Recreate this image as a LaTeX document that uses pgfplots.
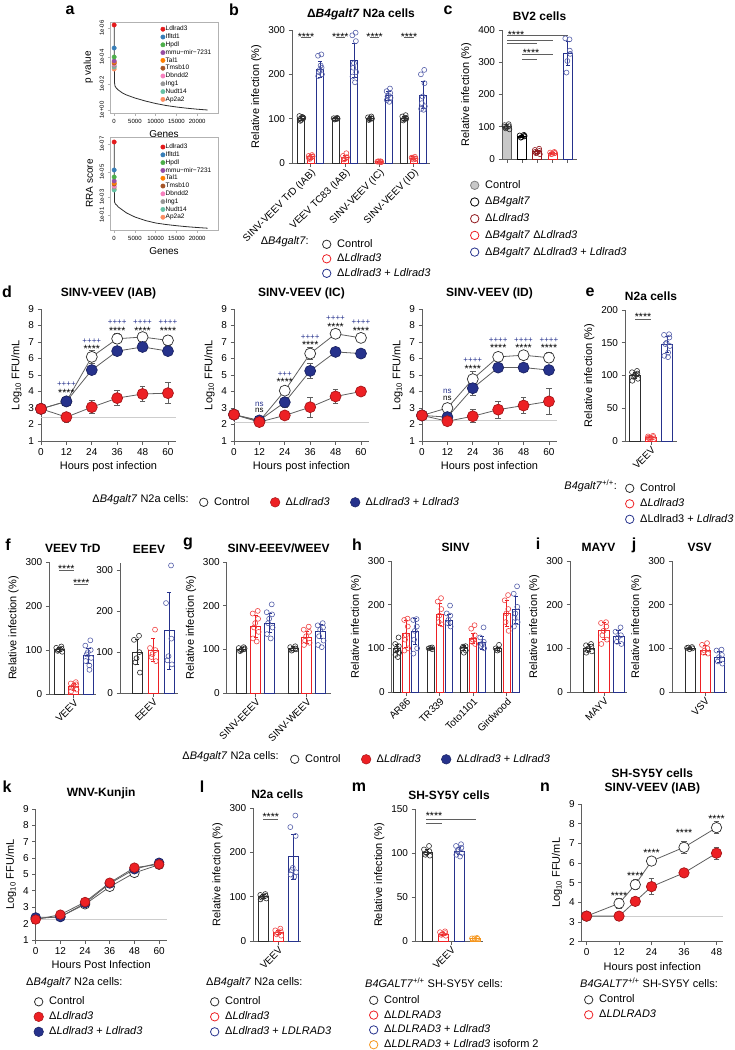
\documentclass[border=0pt]{standalone}
\usepackage{pgfplots}
\pgfplotsset{compat=1.18}
\usepackage{fontspec}
\setmainfont{Liberation Sans}

\definecolor{gred}{RGB}{237,32,36}
\definecolor{gblue}{RGB}{38,50,140}
\definecolor{gbluept}{RGB}{85,95,170}
\definecolor{gredpt}{RGB}{240,70,70}
\definecolor{gdark}{RGB}{45,45,45}
\definecolor{gline}{RGB}{95,95,95}
\definecolor{dred}{RGB}{145,25,30}
\definecolor{gorange}{RGB}{245,150,30}
\definecolor{lgrey}{RGB}{200,200,200}
\definecolor{lodgrey}{RGB}{205,205,205}
\definecolor{sA}{HTML}{E41A1C}
\definecolor{sB}{HTML}{377EB8}
\definecolor{sC}{HTML}{4DAF4A}
\definecolor{sD}{HTML}{984EA3}
\definecolor{sE}{HTML}{FF7F00}
\definecolor{sF}{HTML}{A65628}
\definecolor{sG}{HTML}{F781BF}
\definecolor{sH}{HTML}{999999}
\definecolor{sI}{HTML}{66C2A5}
\definecolor{sJ}{HTML}{FC8D62}

\newcommand{\fs}{\fontsize{11}{13}\selectfont}
\newcommand{\ft}{\fontsize{10}{12}\selectfont}
\newcommand{\fsb}{\bfseries\fontsize{12}{14}\selectfont}
\newcommand{\fst}{\fontsize{10.5}{11}\selectfont}
\newcommand{\fsp}{\fontsize{8}{9}\selectfont}
\newcommand{\fl}{\bfseries\fontsize{16}{16}\selectfont}
\tikzset{st/.style={font=\fst, inner sep=0pt, yshift=-2pt}, sp/.style={font=\fsp, inner sep=0pt, gblue},
  sn/.style={font=\fsp, inner sep=0pt}, sig/.style={gline, line width=0.8pt}, plab/.style={font=\fl, inner sep=0pt}}

\def\msz{5.5pt}
% bar: #1 edge, #2 fill, #3 x, #4 mean, #5 err, #6 width
\newcommand{\gbar}[6]{%
  \addplot[ybar, bar shift=0pt, bar width=#6pt, draw=#1, fill=#2, line width=0.9pt, forget plot,
    error bars/.cd, y dir=both, y explicit,
    error bar style={draw=#1, line width=0.8pt},
    error mark options={rotate=90, mark size=2.2pt, draw=#1, line width=0.8pt}]
    coordinates {(#3,#4) +- (0,#5)};}
% points: #1 colour, #2 x, #3 jitter, #4 y list
\newcommand{\gpts}[4]{%
  \gdef\ptlist{}%
  \foreach \yv [count=\ii] in {#4}{%
    \pgfmathsetmacro{\pxx}{#2+#3*sin(\ii*137.5)}%
    \xdef\ptlist{\ptlist(\pxx,\yv)}%
  }%
  \edef\doplot{\noexpand\addplot[only marks, color=#1, mark=o, mark size=2.5pt, mark options={draw=#1, line width=0.6pt}, forget plot] coordinates {\ptlist};}%
  \doplot}
% time course: #1 fill, #2 draw, #3 coords
\newcommand{\tc}[3]{%
  \addplot[gline, line width=0.8pt, mark=*, mark size=\msz, mark options={fill=#1, draw=#2, line width=0.7pt},
    error bars/.cd, y dir=both, y explicit, error bar style={gline, line width=0.8pt},
    error mark options={rotate=90, mark size=2.8pt, draw=gline, line width=0.8pt}] coordinates {#3};}

\pgfplotsset{
  gp/.style={scale only axis, anchor=south west, axis lines*=left,
    axis line style={line width=0.9pt, draw=gline},
    tick style={line width=0.8pt, draw=gline},
    tick align=outside, major tick length=3.5pt, tick pos=left,
    tick label style={font=\ft, text=black},
    label style={font=\fs},
    title style={font=\fsb, align=center},
    /pgf/number format/assume math mode=true,
    /pgf/number format/1000 sep={},
    clip=false},
  barax/.style={gp, ylabel={Relative infection (\%)}, xmin=0, ymin=0,
    xticklabel style={rotate=45, anchor=north east, inner sep=1pt}},
  lineax/.style={gp, ylabel={Log\textsubscript{10} FFU/mL}, xlabel={Hours post infection},
    ymin=1, ymax=9, ytick={1,2,...,9}, xmin=0, xtick={0,12,24,36,48,60}},
  aax/.style={scale only axis, anchor=south west, width=108pt, xmin=-1000, xmax=25000, ymin=0,
    axis line style={draw=gray!60, line width=0.6pt}, tick style={draw=gray!60, line width=0.5pt},
    tick align=outside, tick pos=left, major tick length=2.5pt,
    xtick={0,5000,10000,15000,20000}, scaled x ticks=false,
    xticklabel style={font=\fontsize{6}{6}\selectfont},
    yticklabel style={font=\fontsize{6}{6}\selectfont, rotate=90, anchor=south},
    xlabel={Genes}, label style={font=\fontsize{10}{11}\selectfont},
    /pgf/number format/assume math mode=true, /pgf/number format/1000 sep={},
    legend style={draw=none, fill=none, font=\fontsize{6.5}{7}\selectfont, legend cell align=left,
      row sep=0.5pt, nodes={inner sep=0.6pt, text height=4.8pt, text depth=1.3pt}},
    legend image code/.code={\draw[##1] plot coordinates {(3pt,0pt)};},
    clip=false},
  legax/.style={hide axis, scale only axis, anchor=north west, width=5pt, height=5pt,
    xmin=0, xmax=1, ymin=0, ymax=1,
    legend style={at={(0,1)}, anchor=north west, draw=none, fill=none, font=\fs,
      legend cell align=left, row sep=1.3pt, nodes={inner sep=1.5pt, text height=8pt, text depth=2.2pt}},
    legend image code/.code={\path[draw=none, fill=none] (-1pt,-0.1pt) rectangle (15pt,0.1pt); \draw[##1] plot coordinates {(6pt,0pt)};}},
  oc/.style={only marks, mark=o, mark size=4.2pt, mark options={draw=#1, line width=0.8pt}},
  fc/.style={only marks, mark=*, mark size=4.8pt, mark options={fill=#1, draw=#1!70!black, line width=0.5pt}},
}

\begin{document}
\begin{tikzpicture}[x=1pt, y=1pt]
\path[use as bounding box] (0pt,0pt) rectangle (735pt,-1050pt);

% panel letters
\node[plab] at (70pt,-10pt) {a};
\node[plab] at (234pt,-10pt) {b};
\node[plab] at (448pt,-10pt) {c};
\node[plab] at (7pt,-292pt) {d};
\node[plab] at (590pt,-292pt) {e};
\node[plab] at (8pt,-545pt) {f};
\node[plab] at (188pt,-544pt) {g};
\node[plab] at (357pt,-545pt) {h};
\node[plab] at (538pt,-544pt) {i};
\node[plab] at (634pt,-545pt) {j};
\node[plab] at (7pt,-787pt) {k};
\node[plab] at (202pt,-787pt) {l};
\node[plab] at (359pt,-787pt) {m};
\node[plab] at (545pt,-787pt) {n};

%%%%%%%% a top
\begin{axis}[aax, at={(110pt,-113pt)}, height=91pt, ymax=91, ylabel={p value},
  ytick={3,29,56,85}, yticklabels={1e+00,1e-02,1e-04,1e-06},
  legend style={at={(0.44,0.985)}, anchor=north west}, reverse legend]
\addplot[gdark, line width=0.8pt, forget plot] coordinates {(0,88)(0,65)(30,56)(60,44)(100,30)(200,27)(500,25)(1000,23)(2000,20)(3000,18)(5000,15)(7500,12)(10000,9.5)(12500,7.5)(15000,6)(17500,4.8)(20000,3.8)(22500,3)};
\addplot[only marks, mark=*, mark size=2.2pt, color=sJ] coordinates {(0,44)};\addlegendentry{Ap2a2}
\addplot[only marks, mark=*, mark size=2.2pt, color=sI] coordinates {(0,46)};\addlegendentry{Nudt14}
\addplot[only marks, mark=*, mark size=2.2pt, color=sH] coordinates {(0,47)};\addlegendentry{Ing1}
\addplot[only marks, mark=*, mark size=2.2pt, color=sG] coordinates {(0,49)};\addlegendentry{Dbndd2}
\addplot[only marks, mark=*, mark size=2.2pt, color=sF] coordinates {(0,50)};\addlegendentry{Tmsb10}
\addplot[only marks, mark=*, mark size=2.2pt, color=sE] coordinates {(0,51)};\addlegendentry{Tal1}
\addplot[only marks, mark=*, mark size=2.2pt, color=sD] coordinates {(0,52)};\addlegendentry{mmu−mir−7231}
\addplot[only marks, mark=*, mark size=2.2pt, color=sC] coordinates {(0,56)};\addlegendentry{Hpdl}
\addplot[only marks, mark=*, mark size=2.2pt, color=sB] coordinates {(0,65)};\addlegendentry{Ifltd1}
\addplot[only marks, mark=*, mark size=2.2pt, color=sA] coordinates {(0,88)};\addlegendentry{Ldlrad3}
\end{axis}

%%%%%%%% a bottom
\begin{axis}[aax, at={(110pt,-230pt)}, height=93pt, ymax=93, ylabel={RRA score},
  ytick={15,33,58,86}, yticklabels={1e-01,1e-03,1e-05,1e-07},
  legend style={at={(0.44,0.955)}, anchor=north west}, reverse legend]
\addplot[gdark, line width=0.8pt, forget plot] coordinates {(0,88)(10,60)(30,45)(60,38)(100,28)(300,26)(600,25)(1000,23)(2000,20)(3000,17)(5000,13)(7500,9.5)(10000,7)(12500,5.5)(15000,4.3)(17500,3.3)(20000,2.5)(22500,1.8)};
\addplot[only marks, mark=*, mark size=2.2pt, color=sJ] coordinates {(0,41)};\addlegendentry{Ap2a2}
\addplot[only marks, mark=*, mark size=2.2pt, color=sI] coordinates {(0,40)};\addlegendentry{Nudt14}
\addplot[only marks, mark=*, mark size=2.2pt, color=sH] coordinates {(0,43)};\addlegendentry{Ing1}
\addplot[only marks, mark=*, mark size=2.2pt, color=sG] coordinates {(0,44)};\addlegendentry{Dbndd2}
\addplot[only marks, mark=*, mark size=2.2pt, color=sF] coordinates {(0,46)};\addlegendentry{Tmsb10}
\addplot[only marks, mark=*, mark size=2.2pt, color=sE] coordinates {(0,47)};\addlegendentry{Tal1}
\addplot[only marks, mark=*, mark size=2.2pt, color=sD] coordinates {(0,49)};\addlegendentry{mmu−mir−7231}
\addplot[only marks, mark=*, mark size=2.2pt, color=sC] coordinates {(0,53)};\addlegendentry{Hpdl}
\addplot[only marks, mark=*, mark size=2.2pt, color=sB] coordinates {(0,60)};\addlegendentry{Ifltd1}
\addplot[only marks, mark=*, mark size=2.2pt, color=sA] coordinates {(0,88)};\addlegendentry{Ldlrad3}
\end{axis}

%%%%%%%% b
\begin{axis}[barax, at={(292pt,-163pt)}, width=138pt, height=133pt, xmax=138, ymax=300, ytick={0,100,200,300},
  xtick={18.7,53,87.3,121.6},
  xticklabels={SINV-VEEV TrD (IAB), VEEV TC83 (IAB), SINV-VEEV (IC), SINV-VEEV (ID)},
  title={Δ\textit{B4galt7} N2a cells}]
\gbar{gdark}{white}{9.4}{100}{5}{7}\gpts{gdark}{9.4}{2}{103,106,100,97,95,102,99,104}
\gbar{gred}{white}{18.7}{14}{5}{7}\gpts{gredpt}{18.7}{2}{18,16,14,12,9,15,11}
\gbar{gblue}{white}{28}{212}{18}{7}\gpts{gbluept}{28}{2}{245,242,215,210,205,200,196,220}
\gbar{gdark}{white}{43.7}{100}{3}{7}\gpts{gdark}{43.7}{2}{102,101,100,99,98,100}
\gbar{gred}{white}{53}{12}{5}{7}\gpts{gredpt}{53}{2}{22,16,12,9,8,13}
\gbar{gblue}{white}{62.3}{232}{38}{7}\gpts{gbluept}{62.3}{2}{294,288,275,225,215,205,195,182}
\gbar{gdark}{white}{78}{100}{4}{7}\gpts{gdark}{78}{2}{105,103,101,99,97,100}
\gbar{gred}{white}{87.3}{3}{1}{7}\gpts{gredpt}{87.3}{2}{4,3,2,3,4,2}
\gbar{gblue}{white}{96.6}{152}{10}{7}\gpts{gbluept}{96.6}{2}{168,162,158,153,150,147,142,138}
\gbar{gdark}{white}{112.3}{100}{5}{7}\gpts{gdark}{112.3}{2}{108,105,102,99,96,100}
\gbar{gred}{white}{121.6}{11}{3}{7}\gpts{gredpt}{121.6}{2}{14,12,10,8,12,9}
\gbar{gblue}{white}{130.9}{153}{30}{7}\gpts{gbluept}{130.9}{2}{210,200,180,150,135,128,122,120}
\draw[sig] (axis cs:9.4,283) -- (axis cs:18.7,283); \node[st] at (axis cs:14,290) {****};
\draw[sig] (axis cs:43.7,283) -- (axis cs:53,283); \node[st] at (axis cs:48.3,290) {****};
\draw[sig] (axis cs:78,283) -- (axis cs:87.3,283); \node[st] at (axis cs:82.6,290) {****};
\draw[sig] (axis cs:112.3,283) -- (axis cs:121.6,283); \node[st] at (axis cs:117,290) {****};
\end{axis}
\node[font=\fs, anchor=east, inner sep=0] at (309pt,-242pt) {Δ\textit{B4galt7}:};
\begin{axis}[legax, at={(316.5pt,-235.5pt)}, legend style={row sep=1.3pt}]
\addlegendimage{oc=gdark}\addlegendentry{Control}
\addlegendimage{oc=gred}\addlegendentry{Δ\textit{Ldlrad3}}
\addlegendimage{oc=gblue}\addlegendentry{Δ\textit{Ldlrad3} + \textit{Ldlrad3}}
\end{axis}

%%%%%%%% c
\begin{axis}[barax, at={(502pt,-159pt)}, width=75pt, height=129pt, xmax=75, ymax=400, ytick={0,100,200,300,400},
  xtick={5,20.2,35.4,50.6,65.8}, xticklabels={,,,,}, title={BV2 cells}]
\gbar{gline}{lgrey}{5}{100}{6}{9}\gpts{gdark}{5}{2.5}{108,105,102,98,95,92,100}
\gbar{black}{white}{20.2}{70}{4}{9}\gpts{black}{20.2}{2.5}{75,73,70,68,66,72}
\gbar{dred}{white}{35.4}{22}{6}{9}\gpts{dred}{35.4}{2.5}{32,28,25,20,18,15,22}
\gbar{gred}{white}{50.6}{18}{3}{9}\gpts{gredpt}{50.6}{2.5}{22,20,18,16,15,19}
\gbar{gblue}{white}{65.8}{327}{38}{9}\gpts{gbluept}{65.8}{2.5}{371,374,336,304,268,326}
\draw[sig] (axis cs:5,382) -- (axis cs:65.8,382); \node[st] at (axis cs:14,392) {****};
\draw[sig] (axis cs:5,369) -- (axis cs:50.6,369);
\draw[sig] (axis cs:5,357) -- (axis cs:35.4,357);
\draw[sig] (axis cs:20.2,325) -- (axis cs:50.6,325); \node[st] at (axis cs:29,334) {****};
\draw[sig] (axis cs:20.2,310) -- (axis cs:35.4,310);
\end{axis}
\begin{axis}[legax, at={(464.5pt,-176.5pt)}, legend style={row sep=3.5pt}]
\addlegendimage{only marks, mark=*, mark size=4.2pt, mark options={fill=lgrey, draw=gray, line width=0.8pt}}\addlegendentry{Control}
\addlegendimage{oc=black}\addlegendentry{Δ\textit{B4galt7}}
\addlegendimage{oc=dred}\addlegendentry{Δ\textit{Ldlrad3}}
\addlegendimage{oc=gred}\addlegendentry{Δ\textit{B4galt7} Δ\textit{Ldlrad3}}
\addlegendimage{oc=gblue}\addlegendentry{Δ\textit{B4galt7} Δ\textit{Ldlrad3} + \textit{Ldlrad3}}
\end{axis}

%%%%%%%% d1
\begin{axis}[lineax, at={(41pt,-441pt)}, width=135pt, height=132pt, xmax=63.8, title={SINV-VEEV (IAB)}]
\addplot[lodgrey, line width=1pt, forget plot] coordinates {(0,2.45)(63.8,2.45)};
\tc{white}{gdark}{(0,2.95)+-(0,0.05) (12,3.4)+-(0,0.1) (24,6.1)+-(0,0.4) (36,7.2)+-(0,0.3) (48,7.3)+-(0,0.1) (60,7.1)+-(0,0.3)}
\tc{gblue}{gblue!70!black}{(0,2.95)+-(0,0.05) (12,3.4)+-(0,0.2) (24,5.3)+-(0,0.15) (36,6.45)+-(0,0.15) (48,6.7)+-(0,0.2) (60,6.45)+-(0,0.2)}
\tc{gred}{gred!70!black}{(0,2.95)+-(0,0.05) (12,2.45)+-(0,0.3) (24,3.05)+-(0,0.4) (36,3.6)+-(0,0.45) (48,3.85)+-(0,0.45) (60,3.9)+-(0,0.65)}
\node[sp] at (axis cs:12,4.45) {++++}; \node[st] at (axis cs:12,4.05) {****};
\node[sp] at (axis cs:24,7.05) {++++}; \node[st] at (axis cs:24,6.7) {****};
\node[sp] at (axis cs:36,8.2) {++++}; \node[st] at (axis cs:36,7.8) {****};
\node[sp] at (axis cs:48,8.2) {++++}; \node[st] at (axis cs:48,7.8) {****};
\node[sp] at (axis cs:60,8.2) {++++}; \node[st] at (axis cs:60,7.8) {****};
\end{axis}

%%%%%%%% d2
\begin{axis}[lineax, at={(234pt,-441pt)}, width=135pt, height=132pt, xmax=63.8, title={SINV-VEEV (IC)}]
\addplot[lodgrey, line width=1pt, forget plot] coordinates {(0,2.1)(63.8,2.1)};
\tc{white}{gdark}{(0,2.6)+-(0,0.05) (12,2.2)+-(0,0.1) (24,4.05)+-(0,0.1) (36,6.3)+-(0,0.35) (48,7.5)+-(0,0.05) (60,7.25)+-(0,0.05)}
\tc{gblue}{gblue!70!black}{(0,2.6)+-(0,0.05) (12,2.25)+-(0,0.1) (24,3.35)+-(0,0.3) (36,5.25)+-(0,0.45) (48,6.4)+-(0,0.1) (60,6.3)+-(0,0.15)}
\tc{gred}{gred!70!black}{(0,2.6)+-(0,0.05) (12,2.15)+-(0,0.1) (24,2.55)+-(0,0.1) (36,3.05)+-(0,0.6) (48,3.7)+-(0,0.4) (60,4.0)+-(0,0.2)}
\node[sp] at (axis cs:12,3.2) {ns}; \node[sn] at (axis cs:12,2.85) {ns};
\node[sp] at (axis cs:24,5.05) {+++}; \node[st] at (axis cs:24,4.7) {****};
\node[sp] at (axis cs:36,7.3) {++++}; \node[st] at (axis cs:36,6.95) {****};
\node[sp] at (axis cs:48,8.45) {++++}; \node[st] at (axis cs:48,8.05) {****};
\node[sp] at (axis cs:60,8.2) {++++}; \node[st] at (axis cs:60,7.8) {****};
\end{axis}

%%%%%%%% d3
\begin{axis}[lineax, at={(422pt,-441pt)}, width=135pt, height=132pt, xmax=63.8, title={SINV-VEEV (ID)}]
\addplot[lodgrey, line width=1pt, forget plot] coordinates {(0,2.25)(63.8,2.25)};
\tc{white}{gdark}{(0,2.55)+-(0,0.05) (12,3.0)+-(0,0.1) (24,4.75)+-(0,0.45) (36,6.1)+-(0,0.3) (48,6.2)+-(0,0.2) (60,6.05)+-(0,0.3)}
\tc{gblue}{gblue!70!black}{(0,2.55)+-(0,0.05) (12,2.45)+-(0,0.15) (24,4.2)+-(0,0.45) (36,5.45)+-(0,0.15) (48,5.45)+-(0,0.2) (60,5.3)+-(0,0.15)}
\tc{gred}{gred!70!black}{(0,2.55)+-(0,0.05) (12,2.2)+-(0,0.2) (24,2.5)+-(0,0.4) (36,2.9)+-(0,0.5) (48,3.15)+-(0,0.5) (60,3.4)+-(0,0.8)}
\node[sp] at (axis cs:12,4.0) {ns}; \node[sn] at (axis cs:12,3.6) {ns};
\node[sp] at (axis cs:24,5.9) {++++}; \node[st] at (axis cs:24,5.5) {****};
\node[sp] at (axis cs:36,7.1) {++++}; \node[st] at (axis cs:36,6.75) {****};
\node[sp] at (axis cs:48,7.1) {++++}; \node[st] at (axis cs:48,6.75) {****};
\node[sp] at (axis cs:60,7.1) {++++}; \node[st] at (axis cs:60,6.75) {****};
\end{axis}
\node[font=\fs, anchor=east, inner sep=0] at (189pt,-500pt) {Δ\textit{B4galt7} N2a cells:};
\begin{axis}[legax, at={(193.5pt,-493.5pt)}, legend columns=3,
  legend style={/tikz/every even column/.append style={column sep=17pt}}]
\addlegendimage{oc=gdark}\addlegendentry{Control}
\addlegendimage{fc=gred}\addlegendentry{Δ\textit{Ldlrad3}}
\addlegendimage{fc=gblue}\addlegendentry{Δ\textit{Ldlrad3} + \textit{Ldlrad3}}
\end{axis}

%%%%%%%% e
\begin{axis}[barax, at={(625pt,-441pt)}, width=52pt, height=131pt, xmax=52, ymax=200, ytick={0,50,100,150,200},
  xtick={26}, xticklabels={VEEV}, title={N2a cells}]
\gbar{gdark}{white}{10}{100}{4}{10.5}\gpts{gdark}{10}{3}{107,105,103,100,98,95,92,101}
\gbar{gred}{white}{26}{5}{2}{10.5}\gpts{gredpt}{26}{3}{8,7,6,5,4,3,5}
\gbar{gblue}{white}{42}{147}{12}{10.5}\gpts{gbluept}{42}{3}{163,162,158,150,148,145,130,128,135}
\draw[sig] (axis cs:10,185) -- (axis cs:26,185); \node[st] at (axis cs:18,192) {****};
\end{axis}
\node[font=\fs, anchor=east, inner sep=0] at (617pt,-486pt) {\textit{B4galt7}\textsuperscript{+/+}:};
\begin{axis}[legax, at={(619.5pt,-479.5pt)}, legend style={row sep=2.3pt}]
\addlegendimage{oc=gdark}\addlegendentry{Control}
\addlegendimage{oc=gred}\addlegendentry{Δ\textit{Ldlrad3}}
\addlegendimage{oc=gblue}\addlegendentry{ΔLdlrad3 + \textit{Ldlrad3}}
\end{axis}

%%%%%%%% f1
\begin{axis}[barax, at={(49.3pt,-694pt)}, width=47pt, height=132pt, xmax=47, ymax=300, ytick={0,100,200,300},
  xtick={24.5}, xticklabels={VEEV}, title={VEEV TrD}]
\gbar{gdark}{white}{10}{101}{5}{10}\gpts{gdark}{10}{3}{108,105,103,100,98,96}
\gbar{gred}{white}{24.5}{17}{8}{10}\gpts{gredpt}{24.5}{3}{27,24,22,18,14,10,6}
\gbar{gblue}{white}{39}{87}{17}{10}\gpts{gbluept}{39}{3}{122,110,100,95,90,82,75,65,55}
\draw[sig] (axis cs:10,282) -- (axis cs:24.5,282); \node[st] at (axis cs:17,290) {****};
\draw[sig] (axis cs:24.5,250) -- (axis cs:39,250); \node[st] at (axis cs:32,258) {****};
\end{axis}
%%%%%%%% f2
\begin{axis}[barax, ylabel={}, at={(120pt,-693pt)}, width=58pt, height=130pt, xmax=58, ymax=318, ytick={0,100,200,300},
  xtick={33}, xticklabels={EEEV}, title={EEEV}]
\gbar{gdark}{white}{17}{100}{30}{10}\gpts{gdark}{17}{3}{140,130,100,85,75,50}
\gbar{gred}{white}{33}{105}{28}{10}\gpts{gredpt}{33}{3}{155,110,105,95,88,78}
\gbar{gblue}{white}{49}{152}{95}{10}\gpts{gbluept}{49}{3}{312,220,133,90,80,70}
\end{axis}
%%%%%%%% g
\begin{axis}[barax, at={(226.7pt,-693pt)}, width=104pt, height=131pt, xmax=104, ymax=300, ytick={0,100,200,300},
  xtick={29,80}, xticklabels={SINV-EEEV,SINV-WEEV}, title={SINV-EEEV/WEEV}]
\gbar{gdark}{white}{15}{100}{5}{10}\gpts{gdark}{15}{3}{105,103,100,98,96,102}
\gbar{gred}{white}{29}{153}{25}{10}\gpts{gredpt}{29}{3}{188,182,170,160,150,140,125,118}
\gbar{gblue}{white}{43}{160}{22}{10}\gpts{gbluept}{43}{3}{203,185,180,170,160,150,135,125}
\gbar{gdark}{white}{66.5}{102}{5}{10}\gpts{gdark}{66.5}{3}{107,105,102,99,97,100}
\gbar{gred}{white}{80}{127}{13}{10}\gpts{gredpt}{80}{3}{152,145,140,130,120,115,110}
\gbar{gblue}{white}{94}{141}{17}{10}\gpts{gbluept}{94}{3}{160,155,150,145,130,120,110,105}
\end{axis}
%%%%%%%% h
\begin{axis}[barax, at={(391.7pt,-692pt)}, width=128pt, height=131pt, xmax=128, ymax=300, ytick={0,100,200,300},
  xtick={14.5,48,81.5,115}, xticklabels={AR86,TR339,Toto1101,Girdwood}, title={SINV}]
\gbar{gdark}{white}{5.5}{100}{8}{7}\gpts{gdark}{5.5}{2}{125,110,105,100,95,90,85,80}
\gbar{gred}{white}{14.5}{133}{30}{7}\gpts{gredpt}{14.5}{2}{168,165,150,130,120,100,95}
\gbar{gblue}{white}{23.5}{138}{30}{7}\gpts{gbluept}{23.5}{2}{167,165,150,140,120,100,88}
\gbar{gdark}{white}{39}{100}{2}{7}\gpts{gdark}{39}{2}{102,100,98,101}
\gbar{gred}{white}{48}{178}{25}{7}\gpts{gredpt}{48}{2}{215,207,190,175,160,155}
\gbar{gblue}{white}{57}{165}{12}{7}\gpts{gbluept}{57}{2}{198,180,175,165,158,150}
\gbar{gdark}{white}{72.5}{101}{6}{7}\gpts{gdark}{72.5}{2}{105,100,95,90,104}
\gbar{gred}{white}{81.5}{123}{12}{7}\gpts{gredpt}{81.5}{2}{153,145,130,120,115,110}
\gbar{gblue}{white}{90.5}{113}{15}{7}\gpts{gbluept}{90.5}{2}{148,125,115,110,105,100}
\gbar{gdark}{white}{106}{99}{4}{7}\gpts{gdark}{106}{2}{108,100,97,95}
\gbar{gred}{white}{115}{180}{30}{7}\gpts{gredpt}{115}{2}{222,210,190,180,160,140}
\gbar{gblue}{white}{124}{188}{30}{7}\gpts{gbluept}{124}{2}{242,225,195,180,170,160,150}
\end{axis}
%%%%%%%% i
\begin{axis}[barax, at={(570pt,-692pt)}, width=57pt, height=131pt, xmax=57, ymax=300, ytick={0,100,200,300},
  xtick={34}, xticklabels={MAYV}, title={MAYV}]
\gbar{gdark}{white}{19}{100}{8}{11}\gpts{gdark}{19}{3}{110,107,104,100,96,93,90}
\gbar{gred}{white}{34}{140}{20}{11}\gpts{gredpt}{34}{3}{160,158,150,140,130,120,110}
\gbar{gblue}{white}{48.5}{127}{15}{11}\gpts{gbluept}{48.5}{3}{148,138,130,125,115,110}
\end{axis}
%%%%%%%% j
\begin{axis}[barax, at={(672pt,-692pt)}, width=55pt, height=131pt, xmax=55, ymax=300, ytick={0,100,200,300},
  xtick={33}, xticklabels={VSV}, title={VSV}]
\gbar{gdark}{white}{18}{100}{3}{10}\gpts{gdark}{18}{3}{103,101,100,98,102}
\gbar{gred}{white}{33}{96}{10}{10}\gpts{gredpt}{33}{3}{112,108,100,95,90,88}
\gbar{gblue}{white}{47.5}{80}{12}{10}\gpts{gbluept}{47.5}{3}{97,95,85,80,70,65}
\end{axis}
\node[font=\fs, anchor=east, inner sep=0] at (279pt,-757pt) {Δ\textit{B4galt7} N2a cells:};
\begin{axis}[legax, at={(284.5pt,-750.5pt)}, legend columns=3,
  legend style={/tikz/every even column/.append style={column sep=17pt}}]
\addlegendimage{oc=gdark}\addlegendentry{Control}
\addlegendimage{fc=gred}\addlegendentry{Δ\textit{Ldlrad3}}
\addlegendimage{fc=gblue}\addlegendentry{Δ\textit{Ldlrad3} + \textit{Ldlrad3}}
\end{axis}

%%%%%%%% k
\def\msz{4.8pt}
\begin{axis}[lineax, at={(35.7pt,-940pt)}, width=131pt, height=131pt, xmax=63.7, xlabel={Hours Post Infection}, title={WNV-Kunjin}]
\addplot[lodgrey, line width=1pt, forget plot] coordinates {(0,2.27)(63.7,2.27)};
\tc{white}{gdark}{(0,2.3)+-(0,0.05) (12,2.43)+-(0,0.05) (24,3.18)+-(0,0.05) (36,4.25)+-(0,0.05) (48,5.1)+-(0,0.05) (60,5.6)+-(0,0.05)}
\tc{gblue}{gblue!70!black}{(0,2.38)+-(0,0.05) (12,2.4)+-(0,0.05) (24,3.25)+-(0,0.05) (36,4.45)+-(0,0.05) (48,5.32)+-(0,0.05) (60,5.72)+-(0,0.05)}
\tc{gred}{gred!70!black}{(0,2.25)+-(0,0.05) (12,2.55)+-(0,0.05) (24,3.32)+-(0,0.05) (36,4.5)+-(0,0.05) (48,5.42)+-(0,0.05) (60,5.62)+-(0,0.05)}
\end{axis}
\node[font=\fs, anchor=west, inner sep=0] at (26pt,-983pt) {Δ\textit{B4galt7} N2a cells:};
\begin{axis}[legax, at={(28.5pt,-993pt)}, legend style={row sep=1.8pt}]
\addlegendimage{oc=gdark}\addlegendentry{Control}
\addlegendimage{fc=gred}\addlegendentry{Δ\textit{Ldlrad3}}
\addlegendimage{fc=gblue}\addlegendentry{Δ\textit{Ldlrad3} + \textit{Ldlrad3}}
\end{axis}

%%%%%%%% l
\begin{axis}[barax, at={(253.3pt,-941pt)}, width=48pt, height=133pt, xmax=48, ymax=300, ytick={0,100,200,300},
  xtick={25}, xticklabels={VEEV}, title={N2a cells}]
\gbar{gdark}{white}{10}{100}{5}{10}\gpts{gdark}{10}{3}{106,104,102,100,98,96,94}
\gbar{gred}{white}{25}{19}{5}{10}\gpts{gredpt}{25}{3}{28,24,22,18,15,12}
\gbar{gblue}{white}{40}{190}{50}{10}\gpts{gbluept}{40}{3}{283,257,237,165,160,155,150,145}
\draw[sig] (axis cs:10,275) -- (axis cs:25,275); \node[st] at (axis cs:17.5,284) {****};
\end{axis}
\node[font=\fs, anchor=west, inner sep=0] at (206pt,-983pt) {Δ\textit{B4galt7} N2a cells:};
\begin{axis}[legax, at={(204.5pt,-993pt)}, legend style={row sep=1.8pt}]
\addlegendimage{oc=gdark}\addlegendentry{Control}
\addlegendimage{oc=gred}\addlegendentry{Δ\textit{Ldlrad3}}
\addlegendimage{oc=gblue}\addlegendentry{Δ\textit{Ldlrad3} + \textit{LDLRAD3}}
\end{axis}

%%%%%%%% m
\begin{axis}[barax, at={(415pt,-941pt)}, width=68pt, height=132pt, xmax=68, ymax=150, ytick={0,50,100,150},
  xtick={36}, xticklabels={VEEV}, title={SH-SY5Y cells}]
\gbar{gdark}{white}{12}{101}{3}{10}\gpts{gdark}{12}{3}{108,104,102,100,98,97}
\gbar{gred}{white}{28}{8}{2}{10}\gpts{gredpt}{28}{3}{11,10,9,8,7,6}
\gbar{gblue}{white}{44}{102}{4}{10}\gpts{gbluept}{44}{3}{110,108,106,104,102,100,98,96}
\gbar{gorange}{white}{60}{3}{0.5}{10}\gpts{gorange}{60}{3}{3.5,3,2.5,3}
\draw[sig] (axis cs:11,138) -- (axis cs:60.5,138); \node[st] at (axis cs:19,144) {****};
\draw[sig] (axis cs:11,134) -- (axis cs:27,134);
\end{axis}
\node[font=\fs, anchor=west, inner sep=0] at (365pt,-983pt) {\textit{B4GALT7}\textsuperscript{+/+} SH-SY5Y cells:};
\begin{axis}[legax, at={(363.5pt,-991.5pt)}, legend style={row sep=1.6pt}]
\addlegendimage{oc=gdark}\addlegendentry{Control}
\addlegendimage{oc=gred}\addlegendentry{Δ\textit{LDLRAD3}}
\addlegendimage{oc=gblue}\addlegendentry{Δ\textit{LDLRAD3} + \textit{Ldlrad3}}
\addlegendimage{oc=gorange}\addlegendentry{Δ\textit{LDLRAD3} + \textit{Ldlrad3} isoform 2}
\end{axis}

%%%%%%%% n
\def\msz{5.2pt}
\begin{axis}[lineax, at={(581.7pt,-941.7pt)}, width=141.3pt, height=137.7pt, xmin=-1.8, xmax=50.4, ymin=2, ymax=9,
  ytick={2,...,9}, xtick={0,12,24,36,48}, title={SH-SY5Y cells\\SINV-VEEV (IAB)}]
\addplot[lodgrey, line width=1pt, forget plot] coordinates {(-1.8,3.3)(50.4,3.3)};
\tc{white}{gdark}{(0,3.3)+-(0,0.05) (12,3.95)+-(0,0.25) (18,4.9)+-(0,0.25) (24,6.1)+-(0,0.05) (36,6.8)+-(0,0.3) (48,7.8)+-(0,0.3)}
\tc{gred}{gred!70!black}{(0,3.3)+-(0,0.05) (12,3.3)+-(0,0.2) (18,4.05)+-(0,0.2) (24,4.8)+-(0,0.4) (36,5.5)+-(0,0.2) (48,6.5)+-(0,0.3)}
\node[st] at (axis cs:12,4.45) {****};
\node[st] at (axis cs:18,5.45) {****};
\node[st] at (axis cs:24,6.6) {****};
\node[st] at (axis cs:36,7.65) {****};
\node[st] at (axis cs:48,8.35) {****};
\end{axis}
\node[font=\fs, anchor=west, inner sep=0] at (580pt,-983pt) {\textit{B4GALT7}\textsuperscript{+/+} SH-SY5Y cells:};
\begin{axis}[legax, at={(578.5pt,-991pt)}, legend style={row sep=1.8pt}]
\addlegendimage{oc=gdark}\addlegendentry{Control}
\addlegendimage{oc=gred}\addlegendentry{Δ\textit{LDLRAD3}}
\end{axis}

\end{tikzpicture}
\end{document}
